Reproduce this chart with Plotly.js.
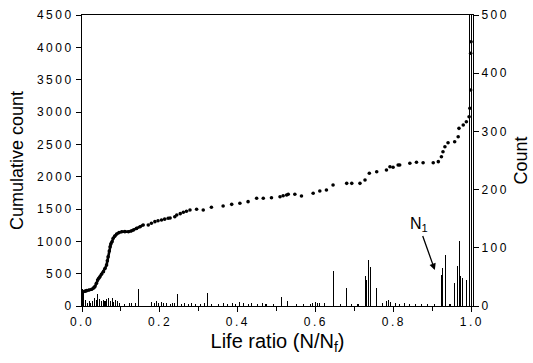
<!DOCTYPE html>
<html>
<head>
<meta charset="utf-8">
<script src="https://cdn.plot.ly/plotly-3.0.1.min.js"></script>
<style>
  html, body { margin: 0; padding: 0; background: #fff; }
  #chart { width: 533px; height: 363px; }
  .xtick text, .ytick text, .y2tick text { letter-spacing: 2.5px; }
</style>
</head>
<body>
<div id="chart"></div>
<script>
// Cumulative count (left axis)
const cumX = [0.003, 0.008, 0.012, 0.018, 0.025, 0.030, 0.033, 0.037, 0.040, 0.043, 0.046, 0.050, 0.055, 0.059,
  0.063, 0.065, 0.067, 0.070, 0.072, 0.074, 0.077, 0.080, 0.084, 0.089, 0.095, 0.102, 0.110, 0.119, 0.126,
  0.132, 0.140, 0.149, 0.157, 0.170, 0.178, 0.187, 0.195, 0.204, 0.212, 0.221, 0.226, 0.238, 0.243, 0.252,
  0.260, 0.268, 0.277, 0.294, 0.311, 0.332, 0.362, 0.384, 0.405, 0.426, 0.448, 0.465, 0.486, 0.508, 0.516,
  0.525, 0.529, 0.546, 0.563, 0.593, 0.610, 0.627, 0.644, 0.679, 0.692, 0.713, 0.726, 0.737, 0.756, 0.781,
  0.790, 0.798, 0.811, 0.815, 0.841, 0.858, 0.875, 0.901, 0.914, 0.922, 0.926, 0.931, 0.939, 0.956, 0.965,
  0.967, 0.978, 0.986, 0.993, 0.995, 0.997, 0.997, 0.998];
const cumY = [221, 230, 237, 248, 258, 280, 299, 350, 402, 430, 453, 490, 530, 580,
  634, 700, 762, 850, 917, 960, 994, 1047, 1080, 1113, 1135, 1149, 1150, 1149, 1160,
  1175, 1200, 1226, 1253, 1253, 1280, 1304, 1318, 1330, 1343, 1356, 1361, 1381, 1407, 1428,
  1449, 1466, 1484, 1495, 1484, 1526, 1546, 1572, 1588, 1614, 1666, 1666, 1675, 1690, 1706,
  1716, 1727, 1727, 1701, 1743, 1778, 1794, 1871, 1897, 1897, 1897, 1948, 2052, 2077, 2103,
  2154, 2145, 2180, 2180, 2207, 2222, 2216, 2216, 2232, 2309, 2386, 2463, 2525, 2541, 2618,
  2747, 2799, 2850, 2927, 3057, 3340, 3908, 4087];
// number of leading points that form the dense, continuous early part of the curve
const denseCount = 33;

// Count (right axis)
const cntX = [0.001, 0.004, 0.008, 0.013, 0.018, 0.023, 0.028, 0.033, 0.037, 0.041, 0.045, 0.049, 0.054, 0.059,
  0.064, 0.068, 0.072, 0.077, 0.082, 0.087, 0.092, 0.097, 0.110, 0.123, 0.128, 0.136, 0.144, 0.146,
  0.179, 0.185, 0.190, 0.195, 0.203, 0.210, 0.218, 0.226, 0.233, 0.238, 0.246, 0.254, 0.264, 0.272,
  0.282, 0.292, 0.303, 0.313, 0.323, 0.333, 0.349, 0.362, 0.374, 0.385, 0.395, 0.405, 0.415, 0.426,
  0.436, 0.449, 0.462, 0.472, 0.492, 0.513, 0.528, 0.549, 0.567, 0.585, 0.592, 0.600, 0.605, 0.610,
  0.623, 0.644, 0.662, 0.679, 0.692, 0.708, 0.726, 0.731, 0.736, 0.740, 0.756, 0.772, 0.782, 0.787,
  0.792, 0.803, 0.815, 0.828, 0.841, 0.856, 0.872, 0.887, 0.905, 0.921, 0.923, 0.926, 0.933, 0.944,
  0.956, 0.962, 0.964, 0.968, 0.972, 0.976, 0.987, 0.995, 0.999];
const cntY = [30, 22, 10, 6, 8, 5, 9, 14, 10, 21, 12, 9, 11, 8,
  12, 14, 9, 13, 7, 10, 9, 5, 3, 6, 5, 6, 29, 20,
  7, 5, 8, 6, 7, 5, 6, 4, 6, 5, 21, 4, 5, 3,
  6, 4, 3, 5, 22, 4, 3, 5, 3, 6, 4, 7, 5, 3,
  5, 3, 6, 4, 3, 16, 8, 3, 4, 3, 6, 7, 5, 6,
  6, 60, 3, 31, 3, 4, 52, 45, 79, 67, 31, 5, 9, 11,
  7, 6, 4, 5, 3, 4, 3, 3, 3, 53, 45, 66, 88, 4,
  40, 38, 69, 112, 52, 48, 45, 600, 600];

const xTickVals = [0, 0.2, 0.4, 0.6, 0.8, 1.0];
const xTickText = ['0.0', '0.2', '0.4', '0.6', '0.8', '1.0'];

const tickFont = { family: 'Liberation Sans, Arial, sans-serif', size: 12, color: '#000' };
const titleFont = { family: 'Liberation Sans, Arial, sans-serif', size: 18, color: '#000' };

const traces = [
  {
    type: 'bar', x: cntX, y: cntY, yaxis: 'y2', width: 0.0026,
    marker: { color: '#000', line: { width: 0 } }, hoverinfo: 'skip', showlegend: false
  },
  {
    type: 'scatter', mode: 'lines', x: cumX.slice(0, denseCount), y: cumY.slice(0, denseCount), yaxis: 'y',
    line: { color: '#000', width: 2.6 }, showlegend: false
  },
  {
    type: 'scatter', mode: 'markers', x: cumX, y: cumY, yaxis: 'y',
    marker: { symbol: 'circle', size: 3.6, color: '#000' }, showlegend: false
  }
];

const layout = {
  width: 533, height: 363,
  margin: { l: 82, r: 60, t: 15, b: 57 },
  paper_bgcolor: '#fff', plot_bgcolor: '#fff',
  showlegend: false,
  bargap: 0,
  xaxis: {
    range: [0, 1.003], tickvals: xTickVals, ticktext: xTickText,
    ticks: 'outside', ticklen: 5, tickwidth: 1, tickcolor: '#000',
    minor: { tickvals: [0.1, 0.3, 0.5, 0.7, 0.9], ticks: 'outside', ticklen: 4, tickcolor: '#000' },
    showline: true, linecolor: '#000', linewidth: 1, mirror: true,
    showgrid: false, zeroline: false, tickfont: tickFont,
    title: { text: 'Life ratio (N/N<sub>f</sub>)', font: { family: titleFont.family, size: 20, color: '#000' }, standoff: 5 }
  },
  yaxis: {
    range: [0, 4500], dtick: 500, tick0: 0,
    ticks: 'outside', ticklen: 5, tickwidth: 1, tickcolor: '#000',
    showline: true, linecolor: '#000', linewidth: 1,
    showgrid: false, zeroline: false, tickfont: tickFont,
    title: { text: 'Cumulative count', font: titleFont, standoff: 8 }
  },
  yaxis2: {
    overlaying: 'y', side: 'right',
    range: [0, 500], dtick: 100, tick0: 0,
    ticks: 'outside', ticklen: 5, tickwidth: 1, tickcolor: '#000',
    showline: true, linecolor: '#000', linewidth: 1,
    showgrid: false, zeroline: false, tickfont: tickFont,
    title: { text: 'Count', font: titleFont, standoff: 6 }
  },
  annotations: [
    {
      x: 0.905, y: 557, xref: 'x', yref: 'y',
      text: 'N<sub>1</sub>', showarrow: true,
      ax: -16, ay: -45, arrowhead: 2, arrowsize: 1, arrowwidth: 1.3, arrowcolor: '#000',
      font: { family: 'Liberation Sans, Arial, sans-serif', size: 16, color: '#000' }
    }
  ]
};

Plotly.newPlot('chart', traces, layout, { displayModeBar: false, staticPlot: true });
</script>
</body>
</html>
